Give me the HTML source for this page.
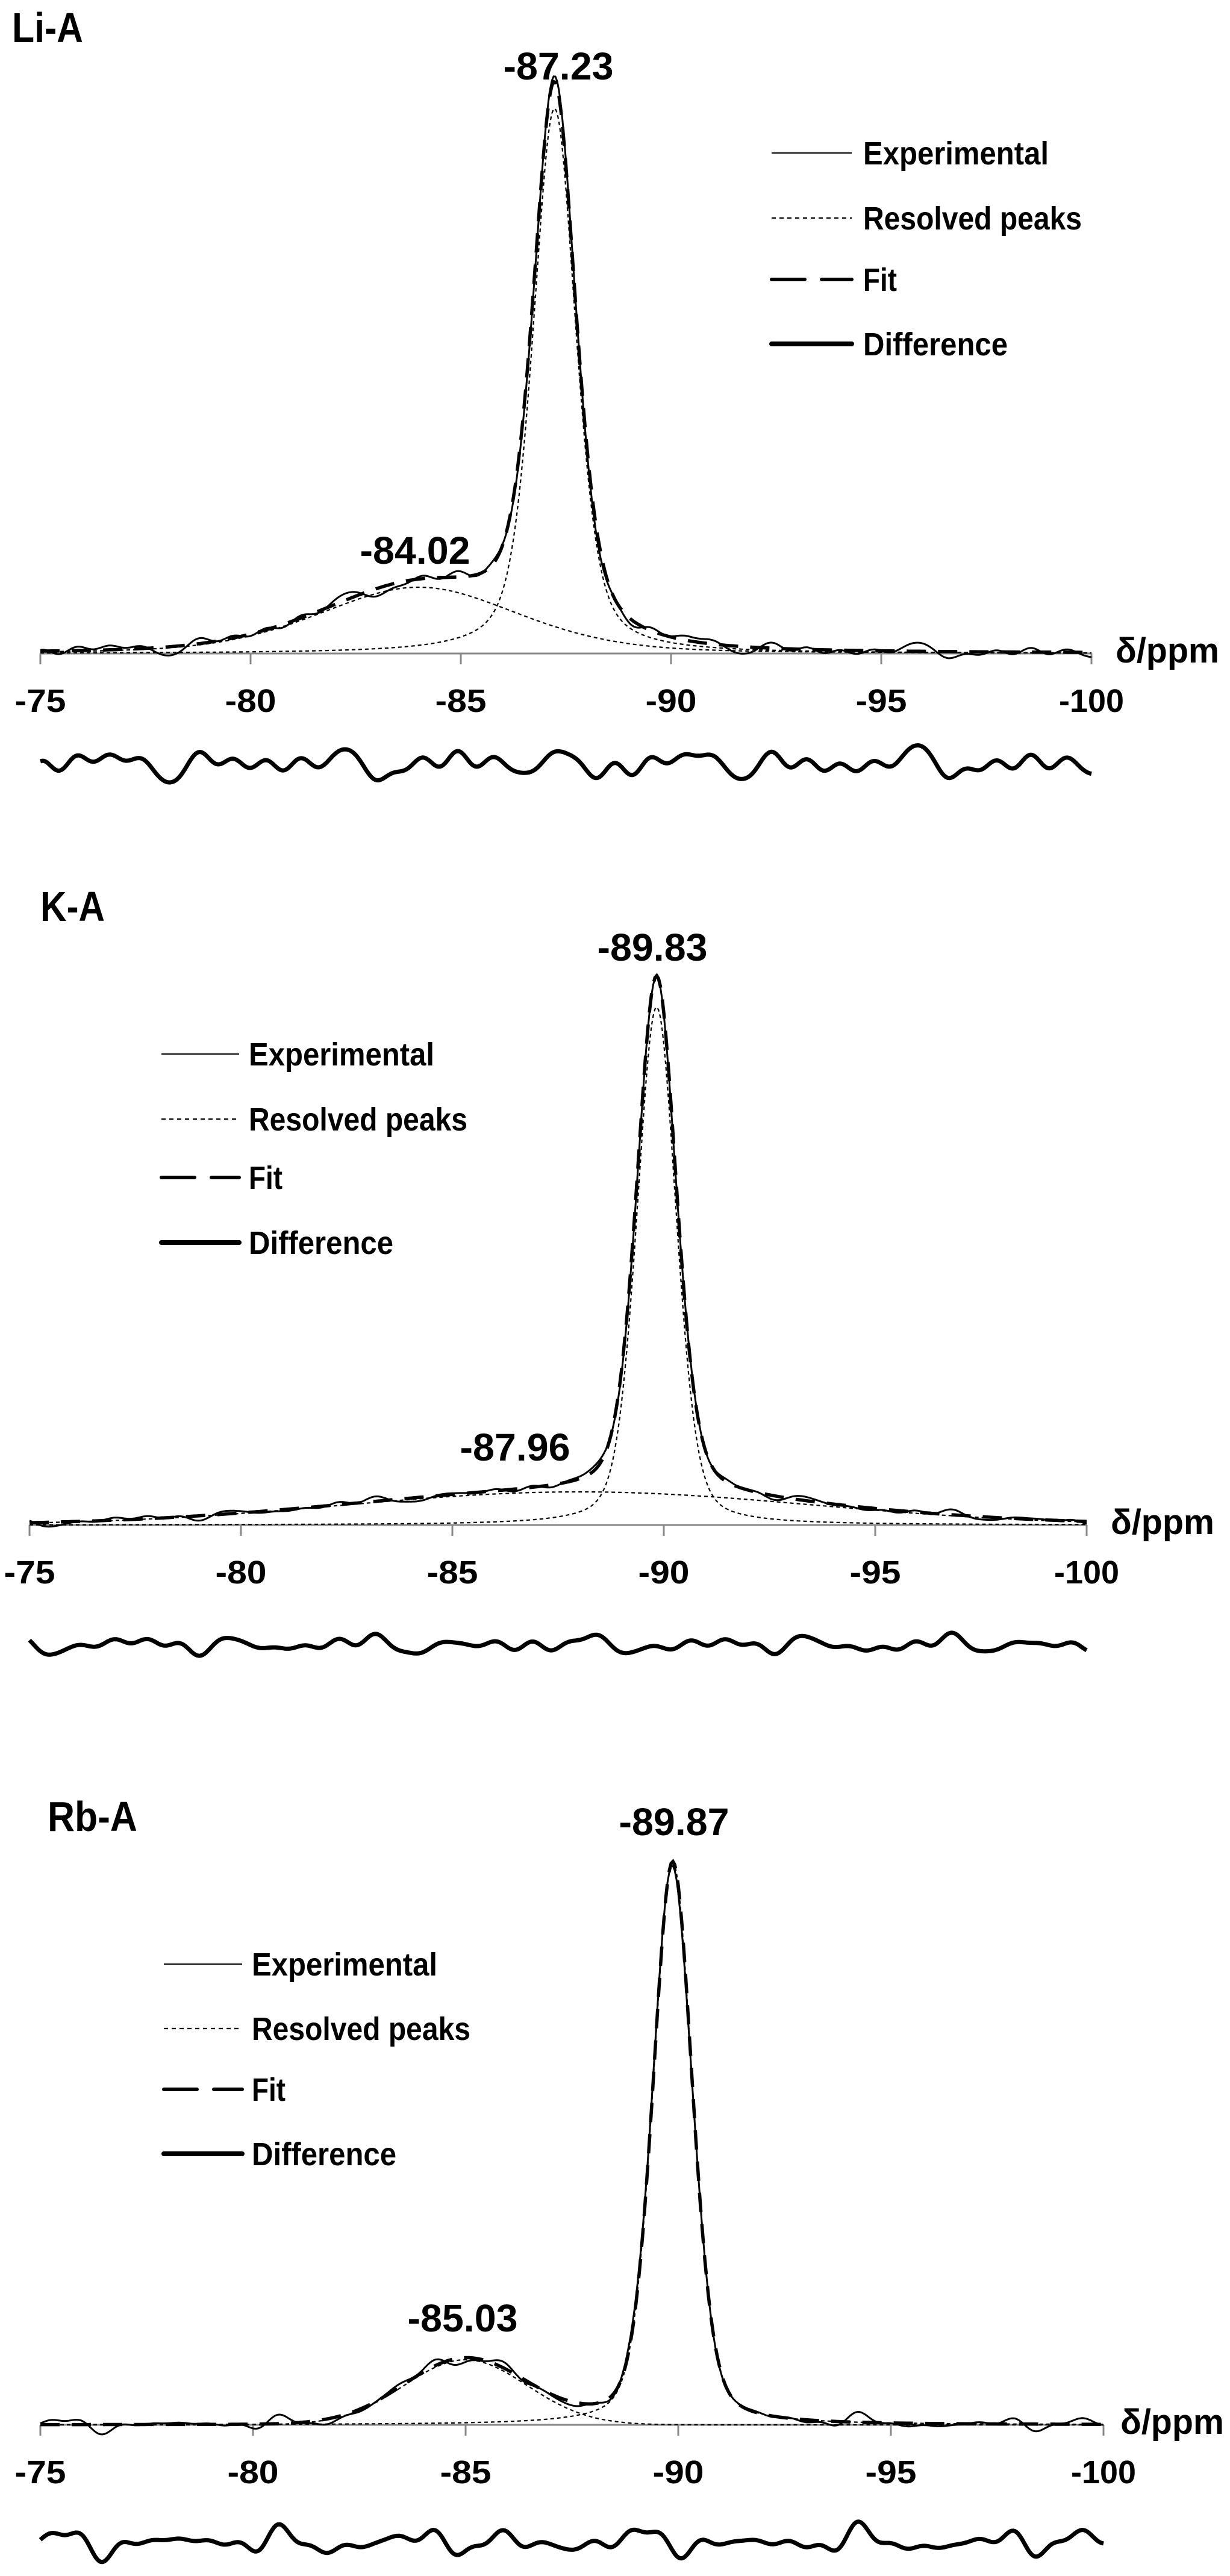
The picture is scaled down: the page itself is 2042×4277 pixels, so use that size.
<!DOCTYPE html>
<html><head><meta charset="utf-8">
<style>
html,body{margin:0;padding:0;background:#fff;}
svg{display:block;}
text{font-family:"Liberation Sans",sans-serif;font-weight:bold;fill:#000;}
</style></head>
<body>
<svg id="s" width="2042" height="4277" viewBox="0 0 2042 4277" xmlns="http://www.w3.org/2000/svg">
<rect width="2042" height="4277" fill="#fff"/>
<g id="g"></g>
<text x="20" y="70" font-size="70" textLength="118" lengthAdjust="spacingAndGlyphs">Li-A</text>
<text x="67" y="1529" font-size="70" textLength="107" lengthAdjust="spacingAndGlyphs">K-A</text>
<text x="79" y="3040" font-size="70" textLength="149" lengthAdjust="spacingAndGlyphs">Rb-A</text>
<text x="927" y="132" font-size="64" text-anchor="middle" textLength="183" lengthAdjust="spacingAndGlyphs">-87.23</text>
<text x="689" y="936" font-size="64" text-anchor="middle" textLength="183" lengthAdjust="spacingAndGlyphs">-84.02</text>
<text x="1083" y="1595" font-size="64" text-anchor="middle" textLength="183" lengthAdjust="spacingAndGlyphs">-89.83</text>
<text x="855" y="2425" font-size="64" text-anchor="middle" textLength="183" lengthAdjust="spacingAndGlyphs">-87.96</text>
<text x="1119" y="3047" font-size="64" text-anchor="middle" textLength="183" lengthAdjust="spacingAndGlyphs">-89.87</text>
<text x="768" y="3871" font-size="64" text-anchor="middle" textLength="183" lengthAdjust="spacingAndGlyphs">-85.03</text>
</svg>
<script>
(function(){
var NS="http://www.w3.org/2000/svg";
var g=document.getElementById("g");
function el(t,a,txt){var e=document.createElementNS(NS,t);for(var k in a)e.setAttribute(k,a[k]);if(txt!==undefined)e.textContent=txt;g.appendChild(e);return e;}
function pv(x,c,h,w,eta){var u=(x-c)/w;return h*(eta/(1+u*u)+(1-eta)*Math.exp(-Math.LN2*u*u));}
function noise(x,seed){var v=0;var fr=[2.3,3.7,5.1,6.9,1.3,8.3];for(var i=0;i<fr.length;i++){v+=Math.sin(x*fr[i]+seed*(i+1)*1.7+i)*(1/(1+i*0.35));}return v/2.6;}
var panels=[
 {x0:67,s:69.8,ay:1085,dy:1268,peaks:[[-87.23,905,0.6,0.45],[-84.0,110,2.8,0.3]],seed:1,na:14,da:30,
  leg:{lx1:1281,lx2:1414,tx:1433,ys:[254,362,464,571]}},
 {x0:49,s:70.2,ay:2532,dy:2731,peaks:[[-89.83,860,0.55,0.3],[-88.0,55,6.5,0.0]],seed:2,na:8,da:18,
  leg:{lx1:268,lx2:397,tx:413,ys:[1750,1858,1955,2063]}},
 {x0:67,s:70.6,ay:4026,dy:4221,peaks:[[-89.87,935,0.55,0.3],[-85.0,108,1.7,0.0]],seed:3,na:13,da:26,
  leg:{lx1:272,lx2:402,tx:418,ys:[3261,3368,3469,3576]}}
];
panels.forEach(function(p){
 var X=function(ppm){return p.x0+(-75-ppm)*p.s;};
 el("line",{x1:X(-75),y1:p.ay,x2:X(-100),y2:p.ay,stroke:"#888","stroke-width":3});
 for(var t=-75;t>=-100;t-=5){
  el("line",{x1:X(t),y1:p.ay,x2:X(t),y2:p.ay+18,stroke:"#888","stroke-width":3});
  var lbl=String(t);
  el("text",{x:X(t),y:p.ay+97,"font-size":54,"text-anchor":"middle",textLength:lbl.length==4?108:85,lengthAdjust:"spacingAndGlyphs"},lbl);
 }
 el("text",{x:Math.min(X(-100)+40,1860),y:p.ay+15,"font-size":58,textLength:172,lengthAdjust:"spacingAndGlyphs"},"\u03b4/ppm");
 var N=600,dp=[[],[]],fit=[],exp=[],dif=[];
 for(var i=0;i<=N;i++){
  var ppm=-75-25*i/N,x=X(ppm),tot=0;
  for(var k=0;k<2;k++){var v=pv(ppm,p.peaks[k][0],p.peaks[k][1],p.peaks[k][2],p.peaks[k][3]);tot+=v;dp[k].push(x.toFixed(1)+","+(p.ay-v).toFixed(1));}
  fit.push(x.toFixed(1)+","+(p.ay-tot).toFixed(1));
  var n=noise(ppm,p.seed);
  exp.push(x.toFixed(1)+","+(p.ay-tot-n*p.na).toFixed(1));
  dif.push(x.toFixed(1)+","+(p.dy-n*p.da).toFixed(1));
 }
 for(var k=0;k<2;k++)el("polyline",{points:dp[k].join(" "),fill:"none",stroke:"#000","stroke-width":2.2,"stroke-dasharray":"6,5"});
 el("polyline",{points:exp.join(" "),fill:"none",stroke:"#000","stroke-width":3});
 el("polyline",{points:fit.join(" "),fill:"none",stroke:"#000","stroke-width":5.5,"stroke-dasharray":"32,20"});
 el("polyline",{points:dif.join(" "),fill:"none",stroke:"#000","stroke-width":7,"stroke-linejoin":"round"});
 var L=p.leg,names=["Experimental","Resolved peaks","Fit","Difference"],w=[308,363,56,240];
 var st=[{w:2,d:""},{w:2.2,d:"7,6"},{w:6,d:"55,28"},{w:8,d:""}];
 for(var j=0;j<4;j++){
  var a={x1:L.lx1,y1:L.ys[j],x2:L.lx2,y2:L.ys[j],stroke:"#000","stroke-width":st[j].w,"stroke-linecap":j>=2?"round":"butt"};
  if(st[j].d)a["stroke-dasharray"]=st[j].d;
  el("line",a);
  el("text",{x:L.tx,y:L.ys[j]+19,"font-size":54,textLength:w[j],lengthAdjust:"spacingAndGlyphs"},names[j]);
 }
});
})();
</script>
</body></html>
